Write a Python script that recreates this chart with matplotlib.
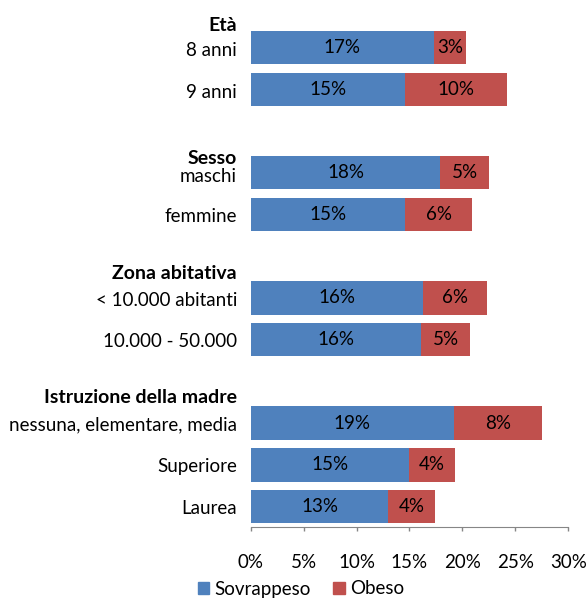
import matplotlib
matplotlib.use("Agg")
import matplotlib.pyplot as plt
from matplotlib.patches import Patch

plt.rcParams['font.family'] = ['Lato', 'DejaVu Sans']

# Groups with their categories
groups = ["Età", "Sesso", "Zona abitativa", "Istruzione della madre"]
categories = [
    ["8 anni", "9 anni"],
    ["maschi", "femmine"],
    ["< 10.000 abitanti", "10.000 - 50.000"],
    ["nessuna, elementare, media", "Superiore", "Laurea"],
]
sovrappeso = [
    [17.3, 14.6],
    [17.9, 14.6],
    [16.3, 16.1],
    [19.2, 15.0, 13.0],
]
obeso = [
    [3.0, 9.6],
    [4.6, 6.3],
    [6.0, 4.6],
    [8.3, 4.3, 4.4],
]
series_names = ["Sovrappeso", "Obeso"]
xticks = [0, 5, 10, 15, 20, 25, 30]

BLUE = "#4F81BD"
RED = "#C0504D"
FS = 13.5

fig = plt.figure(figsize=(5.86, 5.99), dpi=100)
ax = fig.add_axes([0.4278, 0.1194, 0.9698 - 0.4278, 0.9554 - 0.1194])

# slot positions: one empty slot between groups
header_shift = [-0.52, -0.35, -0.58, -0.62]
label_shift = [[0.08, 0.08], [0.1, 0.04], [0.07, 0.05], [0.05, 0.05, 0.05]]
pos = 0
for g, cats in enumerate(categories):
    first = pos
    for i, cat in enumerate(cats):
        s = sovrappeso[g][i]
        o = obeso[g][i]
        ax.barh(pos, s, height=0.8, color=BLUE, edgecolor='none')
        ax.barh(pos, o, left=s, height=0.8, color=RED, edgecolor='none')
        ax.text(s / 2, pos, f"{round(s)}%", ha='center', va='center',
                fontsize=FS, color='black')
        ax.text(s + o / 2, pos, f"{round(o)}%", ha='center', va='center',
                fontsize=FS, color='black')
        ax.text(-1.3, pos + label_shift[g][i], cat, ha='right', va='center',
                fontsize=FS, color='black', clip_on=False)
        pos += 1
    ax.text(-1.3, first + header_shift[g], groups[g], ha='right', va='center',
            fontsize=FS + 0.5, fontweight='bold', color='black', clip_on=False)
    pos += 1

ax.set_ylim(pos - 1.5, -0.5)
ax.set_xlim(0, 30)
ax.set_yticks([])
ax.set_xticks(xticks)
ax.set_xticklabels([f"{t}%" for t in xticks], fontsize=FS)
ax.tick_params(axis='x', direction='out', length=3, width=1, color='#868686',
               pad=16)
for side in ['left', 'right', 'top']:
    ax.spines[side].set_visible(False)
ax.spines['bottom'].set_color('#868686')

handles = [Patch(color=BLUE), Patch(color=RED)]
fig.legend(handles, series_names, loc='center', bbox_to_anchor=(301 / 586, 10 / 599),
           ncol=2, frameon=False, fontsize=FS, handlelength=0.6, handleheight=0.6,
           handletextpad=0.3, columnspacing=1.2)

fig.savefig("out.png", dpi=100)
